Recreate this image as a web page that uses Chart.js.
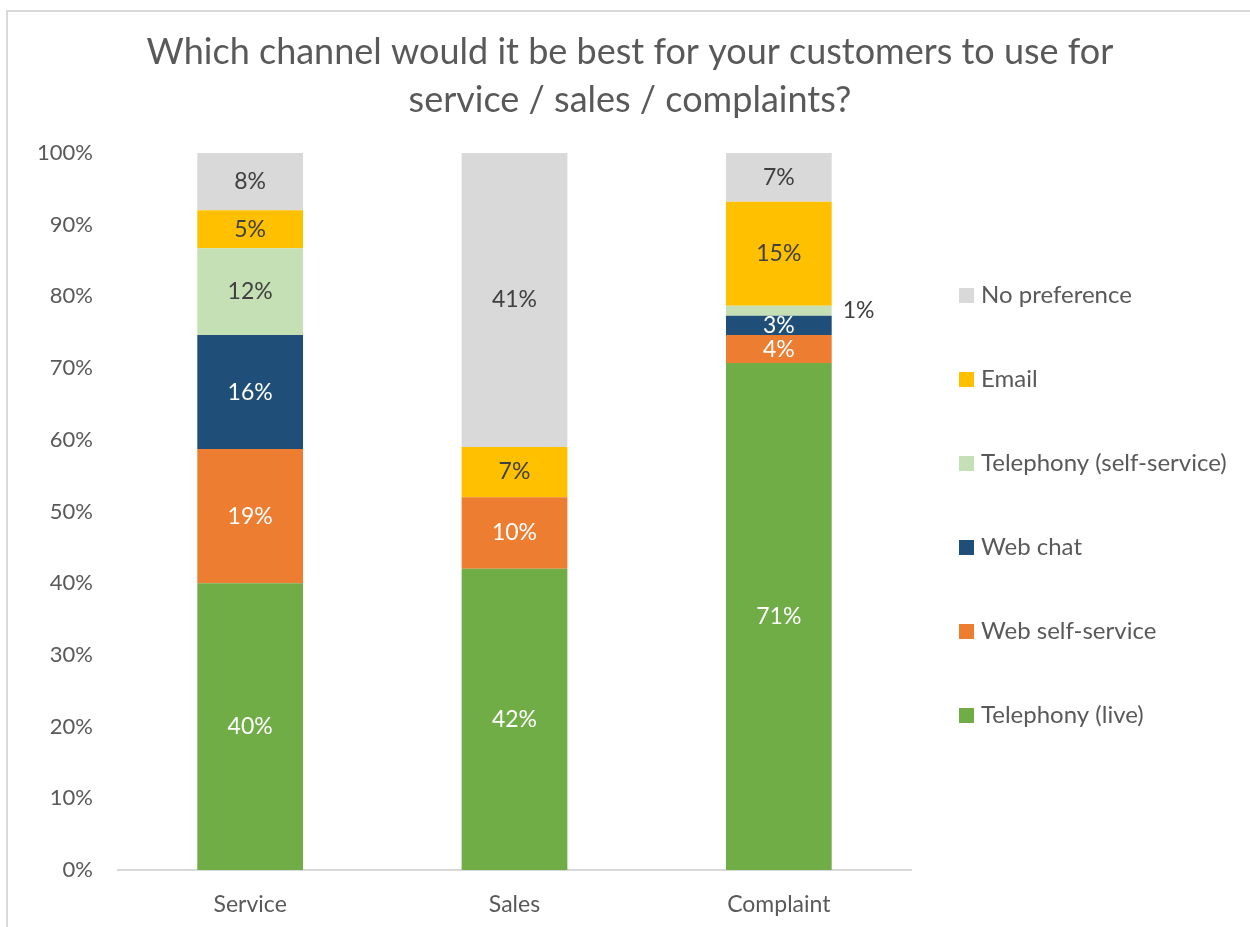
<!DOCTYPE html>
<html>
<head>
<meta charset="utf-8">
<script src="https://cdn.jsdelivr.net/npm/chart.js@4.4.1/dist/chart.umd.min.js"></script>
<style>
  html, body { margin: 0; padding: 0; background: #fff; overflow: hidden; }
  #frame { position: absolute; left: 6px; top: 10px; width: 1300px; height: 1000px;
           border-left: 2px solid #d9d9d9; border-top: 2px solid #d9d9d9; }
  #wrap { position: absolute; left: 0; top: 0; width: 1250px; height: 927px; }
</style>
</head>
<body>
<div id="frame"></div>
<div id="wrap"><canvas id="chart"></canvas></div>
<script>
// Data (percent of respondents)
const categories = ['Service', 'Sales', 'Complaint'];
const telephonyLive = [40.0, 42.0, 70.7];
const webSelfService = [18.7, 10.0, 3.9];
const webChat = [15.9, 0, 2.7];
const telephonySelf = [12.1, 0, 1.4];
const email = [5.3, 7.0, 14.5];
const noPreference = [8.0, 41.0, 6.8];
const yTickValues = [0, 10, 20, 30, 40, 50, 60, 70, 80, 90, 100];

const FONT = 'Lato';
const TEXT_GREY = '#595959';
const DARK_LABEL = '#404040';

function series(label, data, color, labelColor) {
    return { label, data, backgroundColor: color, labelColor, borderWidth: 0 };
}

// value labels inside the segments (tiny ones go to the right of the bar)
const barLabels = {
    id: 'barLabels',
    afterDatasetsDraw(chart) {
        const ctx = chart.ctx;
        ctx.save();
        ctx.font = '23px ' + FONT;
        ctx.textBaseline = 'middle';
        chart.data.datasets.forEach((ds, i) => {
            chart.getDatasetMeta(i).data.forEach((bar, j) => {
                const v = ds.data[j];
                if (!v) return;
                const text = Math.round(v) + '%';
                const midY = (bar.y + bar.base) / 2;
                if (Math.abs(bar.base - bar.y) < 16) {
                    ctx.textAlign = 'left';
                    ctx.fillStyle = DARK_LABEL;
                    ctx.fillText(text, bar.x + bar.width / 2 + 11, midY);
                } else {
                    ctx.textAlign = 'center';
                    ctx.fillStyle = ds.labelColor;
                    ctx.fillText(text, bar.x, midY);
                }
            });
        });
        ctx.restore();
    }
};

// legend on the right, top item = last series
const sideLegend = {
    id: 'sideLegend',
    afterDraw(chart) {
        const ctx = chart.ctx;
        const area = chart.chartArea;
        const step = 84;
        const boxX = area.right + 48;
        const mid = (area.top + area.bottom) / 2 - 6;
        const items = chart.data.datasets.slice().reverse();
        ctx.save();
        ctx.font = '24px ' + FONT;
        ctx.textBaseline = 'middle';
        ctx.textAlign = 'left';
        items.forEach((ds, k) => {
            const y = mid + (k - (items.length - 1) / 2) * step;
            ctx.fillStyle = ds.backgroundColor;
            ctx.fillRect(boxX, y - 7.5, 15, 15);
            ctx.fillStyle = TEXT_GREY;
            ctx.fillText(ds.label, boxX + 22, y);
        });
        ctx.restore();
    }
};

const chart = new Chart(document.getElementById('chart'), {
    type: 'bar',
    data: {
        labels: categories,
        datasets: [
            series('Telephony (live)', telephonyLive, '#70AD47', '#ffffff'),
            series('Web self-service', webSelfService, '#ED7D31', '#ffffff'),
            series('Web chat', webChat, '#1F4E79', '#ffffff'),
            series('Telephony (self-service)', telephonySelf, '#C5E0B4', DARK_LABEL),
            series('Email', email, '#FFC000', DARK_LABEL),
            series('No preference', noPreference, '#D9D9D9', DARK_LABEL)
        ]
    },
    options: {
        responsive: true,
        maintainAspectRatio: false,
        animation: false,
        layout: { padding: { left: 10, right: 0, top: 0, bottom: 0 } },
        datasets: { bar: { categoryPercentage: 1, barPercentage: 0.4 } },
        plugins: {
            legend: { display: false },
            tooltip: { enabled: false },
            title: {
                display: true,
                text: ['Which channel would it be best for your customers to use for', 'service / sales / complaints?'],
                color: TEXT_GREY,
                font: { family: FONT, size: 36, weight: 'normal', lineHeight: 48 / 36 },
                padding: { top: 28, bottom: 29 }
            }
        },
        scales: {
            x: {
                stacked: true,
                grid: { display: false, drawTicks: false },
                border: { display: true, color: '#d9d9d9', width: 2 },
                ticks: { color: TEXT_GREY, font: { family: FONT, size: 23 }, padding: 21 },
                afterFit(scale) { scale.height = 57; }
            },
            y: {
                stacked: true,
                min: 0,
                max: 100,
                grid: { display: false, drawTicks: false },
                border: { display: false },
                afterBuildTicks(scale) { scale.ticks = yTickValues.map(v => ({ value: v })); },
                ticks: {
                    color: TEXT_GREY,
                    font: { family: FONT, size: 22 },
                    padding: 25,
                    callback: v => v + '%'
                },
                afterFit(scale) { scale.width = 108; }
            },
            // empty axis that only keeps room for the legend on the right
            legendRoom: {
                position: 'right',
                grid: { display: false, drawTicks: false },
                border: { display: false },
                ticks: { display: false },
                afterFit(scale) { scale.width = 339; }
            }
        }
    },
    plugins: [barLabels, sideLegend]
});
</script>
</body>
</html>
